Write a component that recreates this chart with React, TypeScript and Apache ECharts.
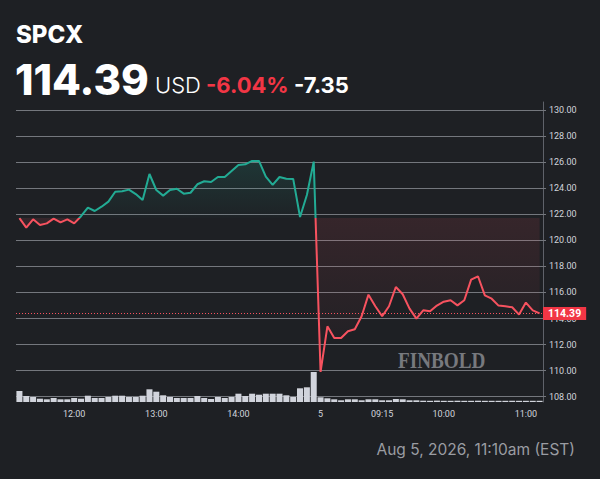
import React, { useEffect, useRef } from 'react';
import * as echarts from 'echarts';

// 5-minute slots: Aug 4 (11:20–14:55) and Aug 5 (08:30–11:10)
const categories = [
  '11:20','11:25','11:30','11:35','11:40','11:45','11:50','11:55',
  '12:00','12:05','12:10','12:15','12:20','12:25','12:30','12:35','12:40','12:45','12:50','12:55',
  '13:00','13:05','13:10','13:15','13:20','13:25','13:30','13:35','13:40','13:45','13:50','13:55',
  '14:00','14:05','14:10','14:15','14:20','14:25','14:30','14:35','14:40','14:45','14:50','14:55',
  '08:30','08:35','08:40','08:45','08:50','08:55','09:00','09:05','09:10',
  '09:15','09:20','09:25','09:30','09:35','09:40','09:45','09:50','09:55',
  '10:00','10:05','10:10','10:15','10:20','10:25','10:30','10:35','10:40','10:45','10:50','10:55',
  '11:00','11:05','11:10'
];

const prices = [
  121.70, 120.97, 121.61, 121.18, 121.30, 121.66, 121.38, 121.61, 121.30, 121.85,
  122.51, 122.25, 122.58, 122.97, 123.73, 123.76, 123.89, 123.55, 123.09, 125.09,
  123.86, 123.43, 123.86, 123.96, 123.58, 123.65, 124.30, 124.53, 124.48, 124.86,
  124.86, 125.32, 125.78, 125.83, 126.09, 126.09, 124.88, 124.25, 124.86, 124.73,
  124.71, 121.79, 123.48, 126.04,
  109.90, 113.40, 112.51, 112.51, 113.02, 113.17, 114.17, 115.83, 114.94, 114.17,
  114.94, 116.42, 115.86, 114.76, 113.99, 114.63, 114.55, 114.99, 115.29, 115.40,
  115.01, 115.40, 116.98, 117.24, 115.78, 115.52, 114.99, 114.94, 114.86, 114.30,
  115.22, 114.63, 114.39
];

const volumes = [
  110, 60, 50, 33, 27, 40, 27, 27, 40, 33,
  63, 40, 40, 50, 63, 63, 50, 50, 63, 127,
  103, 67, 50, 40, 40, 40, 60, 40, 30, 50,
  40, 50, 83, 60, 83, 73, 83, 83, 83, 67,
  50, 137, 147, 300,
  47, 37, 27, 17, 27, 27, 17, 27, 27, 17,
  17, 30, 27, 17, 17, 13, 12, 14, 12, 12,
  13, 12, 12, 13, 12, 12, 12, 12, 12, 12,
  12, 12, 12
];

const prevClose = 121.74;
const lastPrice = 114.39;
const priceMin = 108;
const priceMax = 130;
const priceStep = 2;

const xTickIndex = [8, 20, 32, 44, 53, 62, 74];
const xTickText = ['12:00', '13:00', '14:00', '5', '09:15', '10:00', '11:00'];

const ticker = 'SPCX';
const priceText = '114.39';
const currency = 'USD';
const pctText = '-6.04%';
const chgText = '-7.35';
const dateText = 'Aug 5, 2026, 11:10am (EST)';
const watermark = 'FINBOLD';

const BG = '#1e2024';
const GREEN = '#22ab94';
const RED = '#f7525f';
const GRID = '#74777d';

export default function App() {
  const ref = useRef<HTMLDivElement>(null);

  useEffect(() => {
    document.body.style.margin = '0';
    document.body.style.background = BG;
    if (!ref.current) return;
    const chart = echarts.init(ref.current, undefined, { renderer: 'svg' });

    const maxP = Math.max(...prices);
    const minP = Math.min(...prices);
    const split = (maxP - prevClose) / (maxP - minP);
    const maxVol = Math.max(...volumes);

    const option: any = {
      animation: false,
      backgroundColor: BG,
      textStyle: { fontFamily: 'Inter, Roboto, sans-serif' },
      grid: [
        { left: 16, right: 57, top: 110, bottom: 82.3 },
        { left: 16, right: 57, top: 102, bottom: 77 },
      ],
      xAxis: [
        {
          type: 'category', gridIndex: 0, data: categories, boundaryGap: true, show: false,
        },
        {
          type: 'category', gridIndex: 1, data: categories, boundaryGap: true,
          axisLine: { show: false }, axisTick: { show: false }, splitLine: { show: false },
          axisLabel: {
            interval: (i: number) => xTickIndex.includes(i),
            formatter: (_v: string, i: number) => {
              const k = xTickIndex.indexOf(i);
              return k >= 0 ? xTickText[k] : '';
            },
            color: '#d1d4dc', fontSize: 9, margin: 7, fontFamily: 'Roboto, sans-serif',
          },
        },
      ],
      yAxis: [
        {
          type: 'value', gridIndex: 0, position: 'right',
          min: priceMin, max: priceMax, interval: priceStep,
          axisLine: { show: false },
          axisTick: { show: true, length: 3, lineStyle: { color: GRID } },
          axisLabel: {
            color: '#d1d4dc', fontSize: 9, margin: 6, fontFamily: 'Roboto, sans-serif',
            formatter: (v: number) => v.toFixed(2),
          },
          splitLine: { show: true, lineStyle: { color: GRID, width: 1 } },
        },
        {
          type: 'value', gridIndex: 1, position: 'right', min: 0, max: maxVol * 10,
          axisLine: { show: true, lineStyle: { color: '#5f626a' } },
          axisTick: { show: false }, axisLabel: { show: false }, splitLine: { show: false },
        },
      ],
      series: [
        {
          type: 'bar', xAxisIndex: 1, yAxisIndex: 1, data: volumes,
          barCategoryGap: '12%', itemStyle: { color: '#d1d4dc' }, silent: true, z: 1,
        },
        {
          type: 'line', xAxisIndex: 0, yAxisIndex: 0, data: prices,
          showSymbol: false, symbol: 'none', z: 3, silent: true,
          lineStyle: {
            width: 2,
            color: new echarts.graphic.LinearGradient(0, 0, 0, 1, [
              { offset: 0, color: GREEN },
              { offset: split, color: GREEN },
              { offset: split, color: RED },
              { offset: 1, color: RED },
            ]),
          },
          areaStyle: {
            origin: prevClose,
            opacity: 1,
            color: new echarts.graphic.LinearGradient(0, 0, 0, 1, [
              { offset: 0, color: 'rgba(34,171,148,0.16)' },
              { offset: split, color: 'rgba(34,171,148,0.02)' },
              { offset: split, color: 'rgba(247,82,95,0.11)' },
              { offset: 1, color: 'rgba(247,82,95,0.0)' },
            ]),
          },
          markLine: {
            silent: true, symbol: ['none', 'none'],
            data: [{ yAxis: lastPrice }],
            lineStyle: { color: RED, type: [1, 2], width: 1 },
            label: {
              show: true, position: 'end', distance: 0,
              formatter: lastPrice.toFixed(2),
              color: '#ffffff', backgroundColor: '#f23645',
              padding: [1, 5, 1, 5], fontSize: 10.5, fontWeight: 'bold',
              fontFamily: 'Roboto, sans-serif',
            },
          },
        },
      ],
      graphic: [
        {
          type: 'text', x: 16, y: 34,
          style: { text: ticker, fill: '#ffffff', font: '800 24px Inter', verticalAlign: 'middle' },
        },
        {
          type: 'text', x: 15, y: 79,
          style: { text: priceText, fill: '#ffffff', font: '800 42px Inter', verticalAlign: 'middle' },
        },
        {
          type: 'text', x: 155, y: 85,
          style: { text: currency, fill: '#ffffff', font: '300 22px Inter', verticalAlign: 'middle' },
        },
        {
          type: 'text', x: 206, y: 85,
          style: { text: pctText, fill: '#f23645', font: 'bold 22px Inter', verticalAlign: 'middle' },
        },
        {
          type: 'text', x: 294, y: 85,
          style: { text: chgText, fill: '#ffffff', font: 'bold 22px Inter', verticalAlign: 'middle' },
        },
        {
          type: 'text', x: 398, y: 360, scaleX: 0.8,
          style: { text: watermark, fill: '#77797e', font: 'bold 24px "Liberation Serif"', verticalAlign: 'middle' },
        },
        {
          type: 'text', x: 575, y: 449,
          style: { text: dateText, fill: '#9a9ca2', font: '15.5px Inter', align: 'right', verticalAlign: 'middle' },
        },
      ],
    };

    chart.setOption(option);
    return () => chart.dispose();
  }, []);

  return (
    <div
      ref={ref}
      style={{ position: 'fixed', left: 0, top: 0, width: 600, height: 479, background: BG }}
    />
  );
}
